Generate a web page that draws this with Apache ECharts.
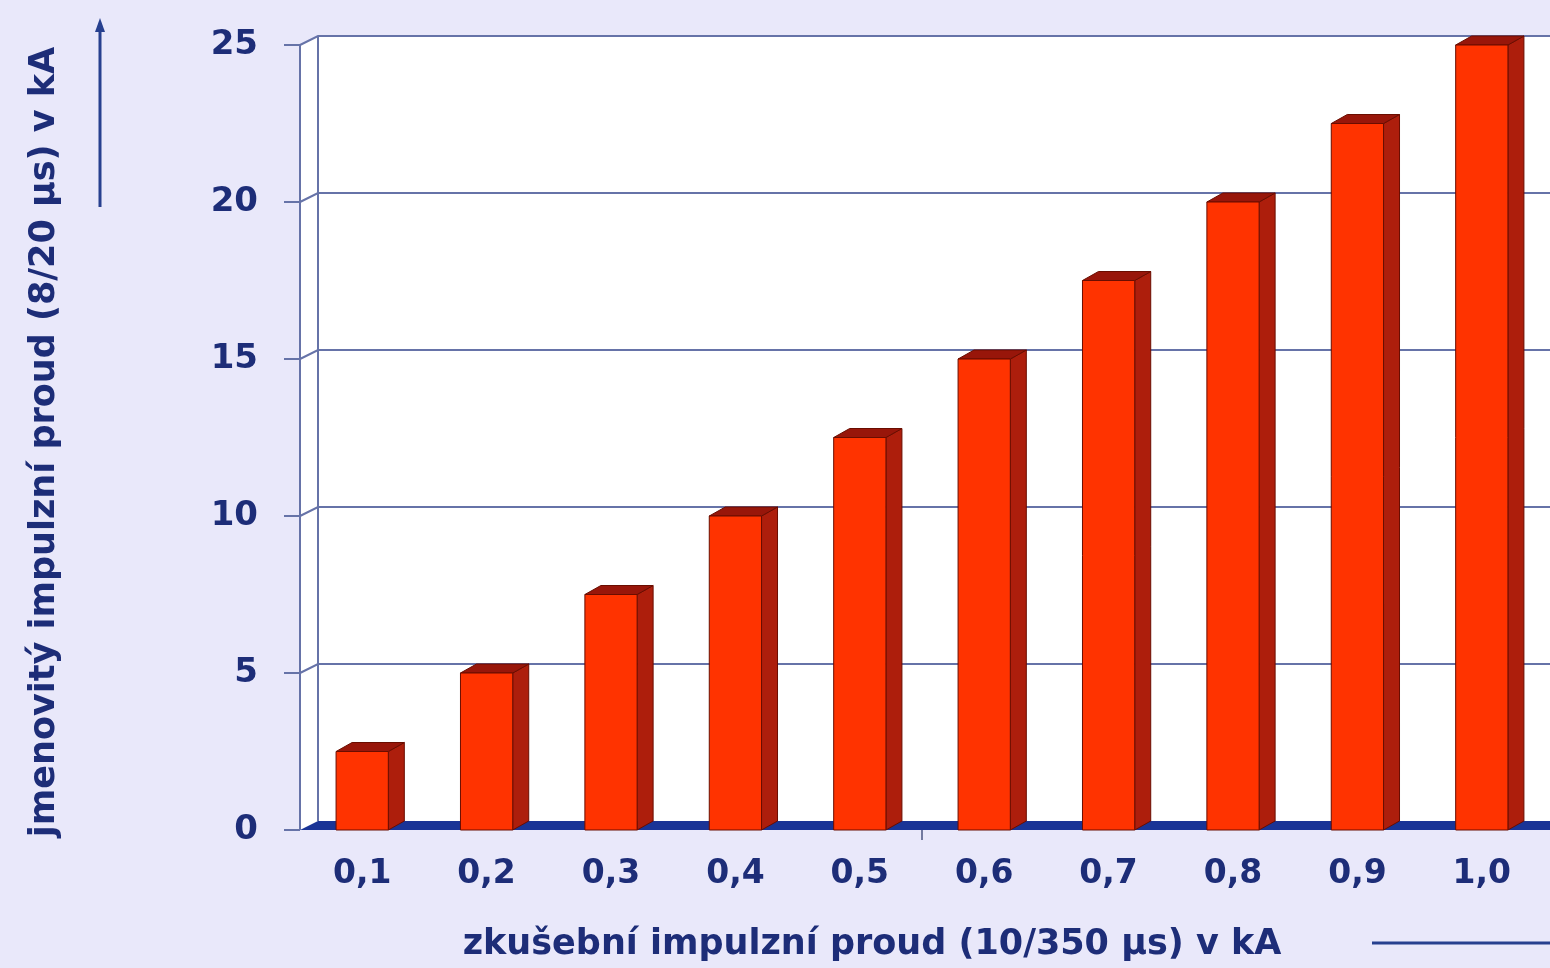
<!DOCTYPE html>
<html>
<head>
<meta charset="utf-8">
<script src="https://cdn.jsdelivr.net/npm/echarts@6/dist/echarts.min.js"></script>
<style>
  html, body { margin: 0; padding: 0; background: #e9e8fa; }
  #chart { width: 1550px; height: 968px; }
</style>
</head>
<body>
<div id="chart"></div>
<script>
// Test impulse current (10/350 µs) and the equivalent nominal impulse current (8/20 µs)
const categories = ['0,1', '0,2', '0,3', '0,4', '0,5', '0,6', '0,7', '0,8', '0,9', '1,0'];
const nominalCurrent = [2.5, 5, 7.5, 10, 12.5, 15, 17.5, 20, 22.5, 25];
const gridValues = [0, 5, 10, 15, 20, 25];

const xTitle = 'zkušební impulzní proud (10/350 µs) v kA';
const yTitle = 'jmenovitý impulzní proud (8/20 µs) v kA';

const NAVY = '#1d2d78';
const GRID = '#6673a8';
const FONT = '"DejaVu Sans", Verdana, sans-serif';

// depth of the pseudo-3D box and bars
const WALL_DX = 18, WALL_DY = -9;
const BAR_DX = 16, BAR_DY = -9;

const chart = echarts.init(document.getElementById('chart'));

// back wall, side wall, floor and gridlines
function renderWalls(params, api) {
  const cs = params.coordSys;
  const x0 = cs.x, right = cs.x + cs.width + 40;
  const top = api.coord([0, 25])[1];
  const bottom = api.coord([0, 0])[1];
  const children = [];
  // white wall background
  children.push({
    type: 'polygon',
    shape: { points: [[x0, top], [x0 + WALL_DX, top + WALL_DY], [right, top + WALL_DY], [right, bottom], [x0, bottom]] },
    style: { fill: '#ffffff' }
  });
  // blue floor
  children.push({
    type: 'polygon',
    shape: { points: [[x0, bottom], [x0 + WALL_DX, bottom + WALL_DY], [right, bottom + WALL_DY], [right, bottom]] },
    style: { fill: '#1a3496' }
  });
  // gridlines along the side wall and back wall
  gridValues.forEach(function (v) {
    if (v === 0) return;
    const y = api.coord([0, v])[1];
    children.push({
      type: 'polyline',
      shape: { points: [[x0, y], [x0 + WALL_DX, y + WALL_DY], [right, y + WALL_DY]] },
      style: { stroke: GRID, lineWidth: 2, fill: null }
    });
  });
  // front and back vertical edges of the side wall
  children.push({
    type: 'line',
    shape: { x1: x0, y1: top, x2: x0, y2: bottom },
    style: { stroke: GRID, lineWidth: 2 }
  });
  children.push({
    type: 'line',
    shape: { x1: x0 + WALL_DX, y1: top + WALL_DY, x2: x0 + WALL_DX, y2: bottom + WALL_DY },
    style: { stroke: GRID, lineWidth: 2 }
  });
  // single category-boundary tick under the floor, between 0,5 and 0,6
  const mid = (api.coord([4, 0])[0] + api.coord([5, 0])[0]) / 2;
  children.push({
    type: 'line',
    shape: { x1: mid, y1: bottom, x2: mid, y2: bottom + 10 },
    style: { stroke: '#4a5580', lineWidth: 1.5 }
  });
  return { type: 'group', children: children };
}

// 3D-looking column: front face, right side and top
function renderBar(params, api) {
  const idx = api.value(0);
  const val = api.value(1);
  const base = api.coord([idx, 0]);
  const tip = api.coord([idx, val]);
  const w = api.size([1, 0])[0] * 0.42;
  const l = base[0] - w / 2, r = base[0] + w / 2;
  const yb = base[1], yt = tip[1];
  const edge = { stroke: '#6a0d00', lineWidth: 1 };
  return {
    type: 'group',
    children: [
      {
        type: 'polygon',
        shape: { points: [[r, yb], [r + BAR_DX, yb + BAR_DY], [r + BAR_DX, yt + BAR_DY], [r, yt]] },
        style: Object.assign({ fill: '#ad1e0c' }, edge)
      },
      {
        type: 'polygon',
        shape: { points: [[l, yt], [l + BAR_DX, yt + BAR_DY], [r + BAR_DX, yt + BAR_DY], [r, yt]] },
        style: Object.assign({ fill: '#98160a' }, edge)
      },
      {
        type: 'rect',
        shape: { x: l, y: yt, width: w, height: yb - yt },
        style: Object.assign({ fill: '#ff3300' }, edge)
      }
    ]
  };
}

chart.setOption({
  backgroundColor: '#e9e8fa',
  animation: false,
  grid: { left: 300, right: 6, top: 45, bottom: 138, containLabel: false },
  xAxis: {
    type: 'category',
    data: categories,
    axisLine: { show: false },
    axisTick: { show: false },
    axisLabel: { color: NAVY, fontFamily: FONT, fontWeight: 'bold', fontSize: 33, margin: 28 },
    splitLine: { show: false }
  },
  yAxis: {
    type: 'value',
    min: 0, max: 25, interval: 5,
    axisLine: { show: false },
    axisTick: { show: true, length: 16, lineStyle: { color: GRID, width: 2 } },
    axisLabel: { color: NAVY, fontFamily: FONT, fontWeight: 'bold', fontSize: 34, margin: 42 },
    splitLine: { show: false }
  },
  graphic: [
    {
      type: 'text', x: 45, y: 442, rotation: Math.PI / 2,
      style: { text: yTitle, fill: NAVY, font: 'bold 35px ' + FONT, align: 'center', verticalAlign: 'middle' }
    },
    {
      type: 'text', x: 872, y: 945,
      style: { text: xTitle, fill: NAVY, font: 'bold 35px ' + FONT, align: 'center', verticalAlign: 'middle' }
    },
    {
      type: 'line', shape: { x1: 100, y1: 207, x2: 100, y2: 28 },
      style: { stroke: '#27408f', lineWidth: 3 }
    },
    {
      type: 'polygon', shape: { points: [[100, 18], [95, 32], [105, 32]] },
      style: { fill: '#27408f' }
    },
    {
      type: 'line', shape: { x1: 1372, y1: 943, x2: 1550, y2: 943 },
      style: { stroke: '#27408f', lineWidth: 3 }
    }
  ],
  series: [
    {
      type: 'custom',
      renderItem: renderWalls,
      data: [[0, 0]],
      silent: true,
      z: 1
    },
    {
      type: 'custom',
      renderItem: renderBar,
      data: nominalCurrent.map(function (v, i) { return [i, v]; }),
      encode: { x: 0, y: 1 },
      z: 2
    }
  ]
});
</script>
</body>
</html>
